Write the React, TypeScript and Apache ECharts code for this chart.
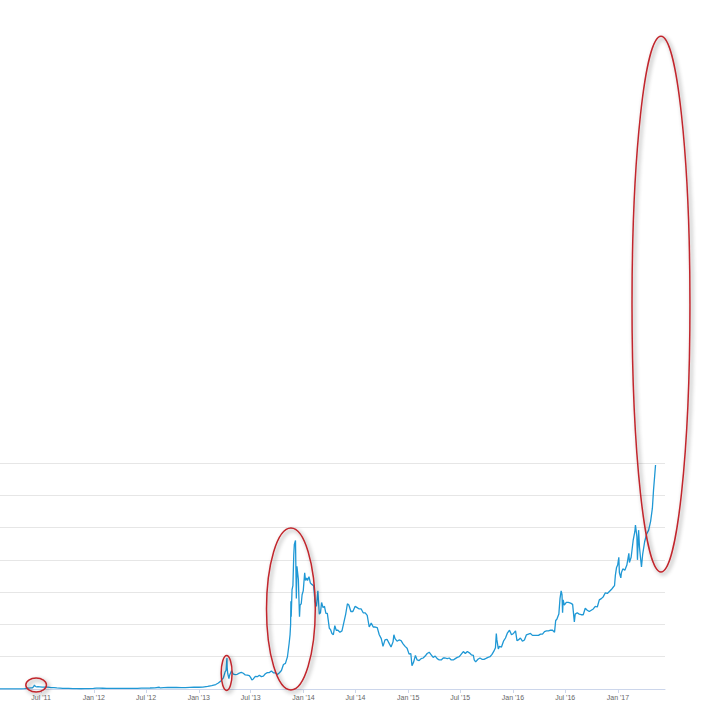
import React, { useEffect, useRef } from "react";
import * as echarts from "echarts";

// Bitcoin price (USD)
const dates: string[] = [
  "2011-02-08","2011-02-20","2011-03-01","2011-03-15","2011-04-01","2011-04-15","2011-04-25","2011-05-05","2011-05-15","2011-05-25",
  "2011-06-01","2011-06-05","2011-06-08","2011-06-10","2011-06-13","2011-06-17","2011-06-20","2011-06-27","2011-07-05","2011-07-15",
  "2011-07-25","2011-08-05","2011-08-15","2011-08-25","2011-09-05","2011-09-15","2011-09-25","2011-10-05","2011-10-20","2011-11-01",
  "2011-11-18","2011-12-01","2011-12-15","2011-12-31",
  "2012-01-10","2012-01-20","2012-02-01","2012-02-15","2012-03-01","2012-03-15","2012-04-01","2012-04-15","2012-05-01","2012-05-15",
  "2012-06-01","2012-06-15","2012-07-01","2012-07-15","2012-08-01","2012-08-16","2012-08-20","2012-09-01","2012-09-15","2012-10-01",
  "2012-10-15","2012-11-01","2012-11-15","2012-12-01","2012-12-15",
  "2013-01-01","2013-01-15","2013-02-01","2013-02-15","2013-03-01","2013-03-10","2013-03-20","2013-03-28","2013-04-03","2013-04-06",
  "2013-04-09","2013-04-10","2013-04-12","2013-04-16","2013-04-18","2013-04-25","2013-05-01","2013-05-08","2013-05-15","2013-05-22",
  "2013-05-29","2013-06-05","2013-06-12","2013-06-19","2013-06-26","2013-07-01","2013-07-05","2013-07-10","2013-07-17","2013-07-24",
  "2013-07-31","2013-08-07","2013-08-14","2013-08-21","2013-08-28","2013-09-04","2013-09-11","2013-09-18","2013-09-25","2013-10-02",
  "2013-10-09","2013-10-16","2013-10-23","2013-10-30","2013-11-06","2013-11-12","2013-11-15","2013-11-17","2013-11-18","2013-11-19",
  "2013-11-22","2013-11-25","2013-11-28","2013-11-30","2013-12-04","2013-12-06","2013-12-07","2013-12-09","2013-12-11","2013-12-14",
  "2013-12-16","2013-12-18","2013-12-20","2013-12-24","2013-12-27","2013-12-31",
  "2014-01-05","2014-01-08","2014-01-12","2014-01-15","2014-01-20","2014-01-25","2014-01-30","2014-02-05","2014-02-10","2014-02-15",
  "2014-02-20","2014-02-25","2014-03-01","2014-03-05","2014-03-10","2014-03-15","2014-03-20","2014-03-25","2014-04-01","2014-04-05",
  "2014-04-10","2014-04-15","2014-04-20","2014-04-25","2014-05-01","2014-05-08","2014-05-15","2014-05-22","2014-05-28","2014-06-03",
  "2014-06-08","2014-06-15","2014-06-22","2014-06-30","2014-07-07","2014-07-14","2014-07-21","2014-07-28","2014-08-04","2014-08-11",
  "2014-08-18","2014-08-25","2014-09-01","2014-09-08","2014-09-15","2014-09-22","2014-09-29","2014-10-05","2014-10-12","2014-10-19",
  "2014-10-26","2014-11-02","2014-11-09","2014-11-12","2014-11-16","2014-11-23","2014-11-30","2014-12-07","2014-12-14","2014-12-21",
  "2014-12-28",
  "2015-01-04","2015-01-10","2015-01-14","2015-01-20","2015-01-26","2015-02-01","2015-02-08","2015-02-15","2015-02-22","2015-03-01",
  "2015-03-08","2015-03-15","2015-03-22","2015-03-29","2015-04-05","2015-04-12","2015-04-19","2015-04-26","2015-05-03","2015-05-10",
  "2015-05-17","2015-05-24","2015-05-31","2015-06-07","2015-06-14","2015-06-21","2015-06-28","2015-07-05","2015-07-12","2015-07-19",
  "2015-07-26","2015-08-02","2015-08-09","2015-08-16","2015-08-19","2015-08-24","2015-09-01","2015-09-08","2015-09-15","2015-09-22",
  "2015-09-29","2015-10-06","2015-10-13","2015-10-20","2015-10-27","2015-11-01","2015-11-04","2015-11-06","2015-11-11","2015-11-15",
  "2015-11-22","2015-11-29","2015-12-06","2015-12-13","2015-12-20","2015-12-27",
  "2016-01-03","2016-01-10","2016-01-15","2016-01-20","2016-01-27","2016-02-03","2016-02-10","2016-02-17","2016-02-24","2016-03-02",
  "2016-03-09","2016-03-16","2016-03-23","2016-03-30","2016-04-06","2016-04-13","2016-04-20","2016-04-27","2016-05-04","2016-05-11",
  "2016-05-18","2016-05-25","2016-05-29","2016-06-02","2016-06-09","2016-06-13","2016-06-17","2016-06-20","2016-06-22","2016-06-24",
  "2016-06-28","2016-07-05","2016-07-12","2016-07-20","2016-07-27","2016-08-02","2016-08-05","2016-08-12","2016-08-19","2016-08-26",
  "2016-09-02","2016-09-09","2016-09-16","2016-09-23","2016-09-30","2016-10-07","2016-10-14","2016-10-21","2016-10-28","2016-11-04",
  "2016-11-11","2016-11-18","2016-11-25","2016-12-02","2016-12-09","2016-12-16","2016-12-20","2016-12-23","2016-12-27","2016-12-31",
  "2017-01-04","2017-01-06","2017-01-11","2017-01-13","2017-01-18","2017-01-25","2017-02-01","2017-02-08","2017-02-10","2017-02-16",
  "2017-02-23","2017-03-01","2017-03-03","2017-03-08","2017-03-10","2017-03-14","2017-03-17","2017-03-20","2017-03-24","2017-03-28",
  "2017-04-04","2017-04-11","2017-04-18","2017-04-25","2017-05-01","2017-05-05","2017-05-09","2017-05-12"
];

const prices: number[] = [
  0.9,0.95,0.9,0.87,0.78,1.0,1.6,3.4,7.5,8.5,
  9.6,17,29.6,24,19,16,17.5,16.8,14.8,14,
  13.8,10.5,11,8.5,7.5,5.4,5.2,4.9,2.3,3.2,
  2.1,3,3.2,4.7,
  7,6.3,6,4.5,4.9,5.3,4.9,4.9,5,5,
  5.3,6.5,6.7,7.7,9.3,13.5,8,10.2,11.7,12.4,
  11.8,10.6,11.2,12.6,13.4,
  13.5,14.3,20.4,27,34.5,46,64,89,135,143,
  240,165,118,80,105,141,116,112,114,123,
  128,122,109,108,103,88,70,78,98,95,
  106,96,100,118,127,127,139,126,125,112,
  126,143,190,198,250,356,420,500,680,560,
  770,800,1040,1120,1150,850,700,950,950,850,
  700,560,650,660,730,760,
  900,840,860,840,870,820,810,800,680,640,
  760,580,590,670,630,640,585,585,470,460,
  430,420,490,455,455,440,450,520,580,660,
  650,600,600,640,630,620,620,590,590,570,
  480,510,480,480,475,420,390,330,380,385,
  355,325,365,420,390,370,380,375,350,330,
  315,
  270,275,180,210,260,225,220,235,240,255,
  275,285,265,245,255,235,225,225,240,240,
  235,240,225,225,235,245,250,270,290,275,
  290,280,265,260,225,210,230,240,230,230,
  237,245,250,268,295,320,430,380,310,330,
  325,370,395,435,455,420,
  430,450,375,380,395,370,380,420,425,430,
  415,415,415,415,425,425,445,450,450,455,
  455,440,530,540,580,700,760,730,590,690,
  650,670,670,665,655,520,580,590,580,575,
  575,625,610,600,610,620,640,635,690,700,
  715,745,740,755,770,790,800,880,940,960,
  1020,900,860,900,930,920,960,1050,980,1020,
  1150,1220,1270,1180,1000,1230,1100,1030,945,1040,
  1140,1200,1230,1300,1400,1540,1650,1734
];

const tickDates: string[] = [
  "2011-07-01","2012-01-01","2012-07-01","2013-01-01","2013-07-01","2014-01-01",
  "2014-07-01","2015-01-01","2015-07-01","2016-01-01","2016-07-01","2017-01-01"
];
const tickLabels: string[] = [
  "Jul '11","Jan '12","Jul '12","Jan '13","Jul '13","Jan '14",
  "Jul '14","Jan '15","Jul '15","Jan '16","Jul '16","Jan '17"
];

const yTicks: number[] = [0, 250, 500, 750, 1000, 1250, 1500, 1750];

// highlighted bubbles: [center date, center price, half-width in days, half-height in USD]
const bubbleDates: string[] = ["2011-06-14", "2013-04-08", "2013-11-18", "2017-05-31"];
const bubblePrices: number[] = [31, 124, 619, 2980];
const bubbleHalfDays: number[] = [36, 19, 85, 101];
const bubbleHalfPrices: number[] = [54, 135, 627, 2074];

const DAY = 86400000;
const ts = (s: string) => new Date(s + "T00:00:00").getTime();

export default function App() {
  const ref = useRef<HTMLDivElement>(null);
  useEffect(() => {
    document.body.style.margin = "0";
    if (!ref.current) return;
    const chart = echarts.init(ref.current, null, { renderer: "svg" });
    const tickTs = tickDates.map(ts);
    const labelMap: Record<number, string> = {};
    tickTs.forEach((t, i) => (labelMap[t] = tickLabels[i]));
    chart.setOption({
      animation: false,
      backgroundColor: "#ffffff",
      grid: { left: 0, right: 63, top: 463, bottom: 14, containLabel: false },
      xAxis: {
        type: "value",
        min: ts("2011-02-08"),
        max: ts("2017-06-14"),
        axisLine: { show: true, lineStyle: { color: "#ccd6eb", width: 1 } },
        axisTick: { show: true, customValues: tickTs, length: 4, lineStyle: { color: "#ccd6eb" } },
        axisLabel: {
          customValues: tickTs,
          formatter: (v: number) => labelMap[v] ?? "",
          fontSize: 7,
          color: "#666666",
          margin: 5,
          fontFamily: "Liberation Sans",
        },
        splitLine: { show: false },
      },
      yAxis: {
        type: "value",
        min: yTicks[0],
        max: yTicks[yTicks.length - 1],
        interval: 250,
        axisLabel: { show: false },
        axisLine: { show: false },
        axisTick: { show: false },
        splitLine: { lineStyle: { color: "#e6e6e6", width: 1 } },
      },
      series: [
        {
          type: "line",
          data: dates.map((d, i) => [ts(d), prices[i]]),
          showSymbol: false,
          symbol: "none",
          lineStyle: { color: "#1f98d5", width: 1.3 },
        },
      ],
    });
    const graphics = bubbleDates.map((d, i) => {
      const c = chart.convertToPixel({ gridIndex: 0 }, [ts(d), bubblePrices[i]]) as number[];
      const e = chart.convertToPixel({ gridIndex: 0 }, [
        ts(d) + bubbleHalfDays[i] * DAY,
        bubblePrices[i] + bubbleHalfPrices[i],
      ]) as number[];
      return {
        type: "ellipse",
        shape: { cx: c[0], cy: c[1], rx: Math.abs(e[0] - c[0]), ry: Math.abs(c[1] - e[1]) },
        style: {
          fill: "none",
          stroke: "#c1272d",
          lineWidth: 1.5,
          shadowBlur: 4,
          shadowColor: "rgba(0,0,0,0.45)",
          shadowOffsetX: 2,
          shadowOffsetY: 2,
        },
        z: 100,
      };
    });
    chart.setOption({ graphic: graphics });
    return () => chart.dispose();
  }, []);
  return <div ref={ref} style={{ width: 728, height: 703 }} />;
}
